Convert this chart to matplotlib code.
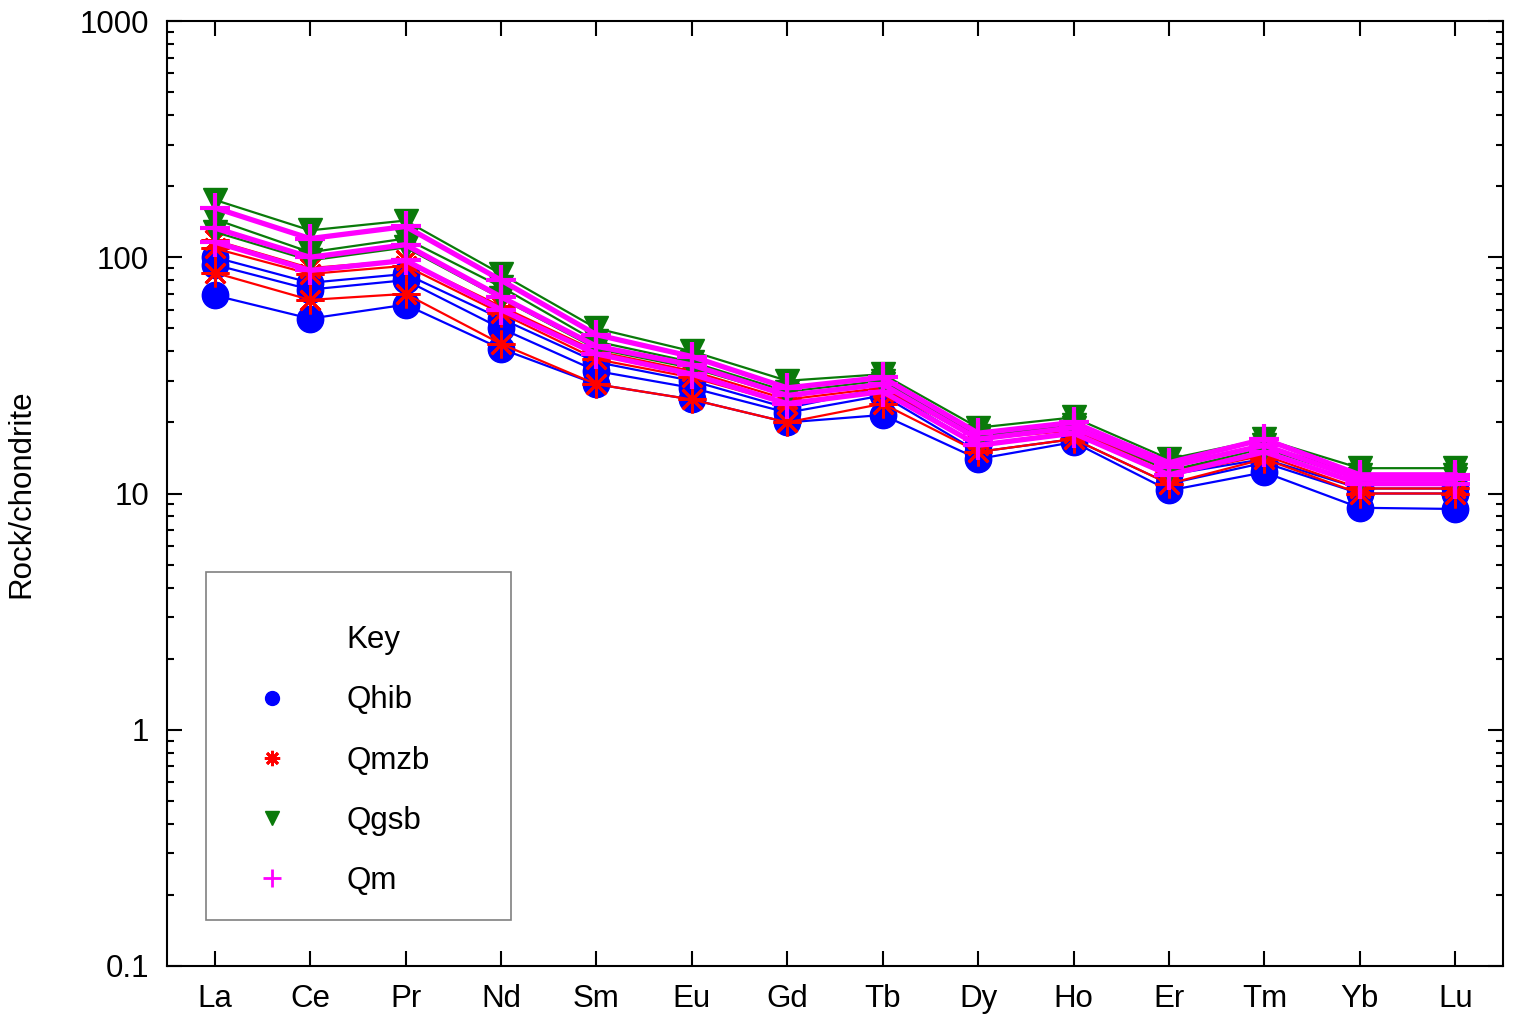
import matplotlib
matplotlib.use("Agg")
import matplotlib.pyplot as plt
from matplotlib.lines import Line2D
from matplotlib.patches import Rectangle
from matplotlib.ticker import LogLocator, NullFormatter, FixedLocator

plt.rcParams['font.family'] = ['Liberation Sans', 'DejaVu Sans']

elements = ['La', 'Ce', 'Pr', 'Nd', 'Sm', 'Eu', 'Gd', 'Tb', 'Dy', 'Ho', 'Er', 'Tm', 'Yb', 'Lu']

# chondrite-normalised values
qhib = [
    [69, 55, 63, 41, 29, 25, 20, 21.5, 14, 16.5, 10.3, 12.3, 8.7, 8.6],
    [93, 73, 80, 50, 33, 28, 22, 26, 15, 17, 11, 13.5, 10, 10],
    [100, 78, 85, 55, 36, 30, 23, 28, 16, 18, 12, 14, 10.5, 10.5],
]
qmzb = [
    [86, 66, 70, 43, 29, 25, 20, 24, 15, 17, 11, 14, 10, 10],
    [109, 85, 92, 58, 37, 31, 24, 27, 16, 18, 12, 14.5, 10.5, 10.5],
    [118, 90, 97, 62, 40, 33, 25, 28, 17, 18.5, 12.5, 15, 11, 11],
]
qgsb = [
    [175, 130, 143, 85, 50, 40, 30, 32, 19, 21, 14, 17, 12.8, 12.8],
    [145, 105, 120, 75, 44, 36, 27, 30, 17.5, 19.5, 13, 16, 12, 12],
    [128, 97, 110, 67, 41, 34, 26, 29, 17, 19, 12.5, 15.5, 11.5, 11.5],
]
qm = [
    [162, 120, 135, 80, 47, 38, 28, 31, 18, 20, 13.5, 17, 12, 12],
    [133, 100, 113, 68, 42, 35, 26, 29, 17, 19, 13, 16, 11.5, 11.5],
    [116, 88, 97, 60, 39, 32, 24, 27, 16, 18, 12, 15, 11, 11],
]

x = list(range(len(elements)))
asterisk = (8, 2, 0)
fs = 22.5

fig = plt.figure(figsize=(15.22, 10.21), dpi=100)
ax = fig.add_axes([0.1097, 0.0539, 0.8778, 0.9255])

for s in qhib:
    ax.plot(x, s, color='#0000ff', lw=1.6, marker='o', ms=19, mec='#0000ff')
for s in qmzb:
    ax.plot(x, s, color='#ff0000', lw=1.6, marker=asterisk, ms=20, mew=2)
for s in qgsb:
    ax.plot(x, s, color='#0a7a0a', lw=1.6, marker='v', ms=17)
for s in qm:
    ax.plot(x, s, color='#ff00ff', lw=3.8, marker='+', ms=22, mew=3)

ax.set_yscale('log')
ax.set_ylim(0.1, 1000)
ax.set_xlim(-0.5, 13.5)
ax.xaxis.set_major_locator(FixedLocator(x))
ax.set_xticklabels(elements)
ax.yaxis.set_minor_locator(LogLocator(base=10, subs=range(2, 10)))
ax.yaxis.set_minor_formatter(NullFormatter())
ax.set_yticks([0.1, 1, 10, 100, 1000])
ax.set_yticklabels(['0.1', '1', '10', '100', '1000'])

ax.tick_params(axis='both', which='major', direction='in', length=10.5, width=1.5,
               labelsize=fs, top=True, right=True)
ax.tick_params(axis='both', which='minor', direction='in', length=5, width=1.5,
               top=True, right=True)
ax.tick_params(axis='y', which='major', pad=13)
ax.tick_params(axis='x', which='major', pad=13)
for sp in ax.spines.values():
    sp.set_linewidth(1.5)

ax.set_ylabel('Rock/chondrite', fontsize=fs, labelpad=31)

# key box
ax.add_patch(Rectangle((0.0292, 0.0487), 0.2283, 0.3683, transform=ax.transAxes,
                       fill=False, edgecolor='#808080', lw=1.2, zorder=5))

handles = [
    Line2D([], [], linestyle='none', marker=None),
    Line2D([], [], linestyle='none', marker='o', color='#0000ff', ms=10),
    Line2D([], [], linestyle='none', marker=asterisk, color='#ff0000', ms=11, mew=2),
    Line2D([], [], linestyle='none', marker='v', color='#0a7a0a', ms=10),
    Line2D([], [], linestyle='none', marker='+', color='#ff00ff', ms=13, mew=2),
]
labels = ['Key', 'Qhib', 'Qmzb', 'Qgsb', 'Qm']
leg = ax.legend(handles, labels, loc='upper left', bbox_to_anchor=(0.0644, 0.3605),
                fontsize=fs, frameon=False, borderpad=0, handlelength=1.2,
                handletextpad=1.78, labelspacing=0.965, borderaxespad=0)

fig.savefig('out.png', dpi=100)
